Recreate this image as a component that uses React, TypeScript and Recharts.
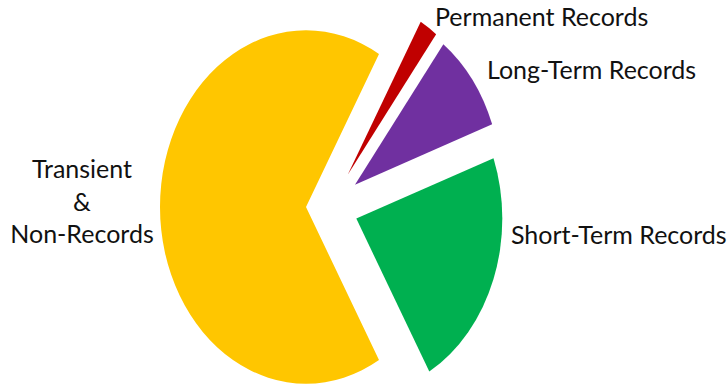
import React from 'react';
import { PieChart, Pie, Cell, Sector } from 'recharts';

const categories = ['Short-Term Records', 'Long-Term Records', 'Permanent Records', 'Transient & Non-Records'];
const shares = [22, 9, 2, 66];
const labelLines = [['Short-Term Records'], ['Long-Term Records'], ['Permanent Records'], ['Transient', '&', 'Non-Records']];

const colors = ['#00B050', '#7030A0', '#C00000', '#FFC600'];
const explode = [28, 31, 32, 24];
const labelLayout = [
  { dx: 181, dy: 37, anchor: 'start' },
  { dx: 157, dy: -128, anchor: 'start' },
  { dx: 105, dy: -181, anchor: 'start' },
  { dx: -248, dy: -29, anchor: 'middle' },
];

const data = categories.map((name, i) => ({ name, value: shares[i] }));

const CX = 330;
const CY = 207;
const R = 146;
const SCALE_Y = 1.21;
const RAD = Math.PI / 180;
const FONT = 'Lato, "Open Sans", sans-serif';

const idxOf = (props: any) => {
  const n = props.name ?? props.payload?.name;
  const i = categories.indexOf(n);
  return i >= 0 ? i : (props.index ?? 0);
};

const renderSlice = (props: any) => {
  const { cx, cy, innerRadius, outerRadius, startAngle, endAngle, fill } = props;
  const mid = props.midAngle ?? (startAngle + endAngle) / 2;
  const i = idxOf(props);
  const off = explode[i] ?? 0;
  const dx = off * Math.cos(-mid * RAD);
  const dy = off * Math.sin(-mid * RAD);
  return (
    <g transform={`translate(${cx} ${cy}) scale(1 ${SCALE_Y}) translate(${-cx + dx} ${-cy + dy})`}>
      <Sector
        cx={cx}
        cy={cy}
        innerRadius={innerRadius}
        outerRadius={outerRadius}
        startAngle={startAngle}
        endAngle={endAngle}
        fill={fill}
        stroke="none"
      />
    </g>
  );
};

const renderLabel = (props: any) => {
  const i = idxOf(props);
  const cx = props.cx ?? CX;
  const cy = props.cy ?? CY;
  const l = labelLayout[i];
  const lines = labelLines[i];
  return (
    <text
      x={cx + l.dx}
      y={cy + l.dy}
      textAnchor={l.anchor}
      fill="#111"
      fontFamily={FONT}
      fontSize={25}
    >
      {lines.map((t, k) => (
        <tspan key={k} x={cx + l.dx} dy={k === 0 ? 0 : 32.5}>
          {t}
        </tspan>
      ))}
    </text>
  );
};

export default function App() {
  return (
    <div style={{ position: 'absolute', left: 0, top: 0, background: '#fff' }}>
      <PieChart width={727} height={386} margin={{ top: 0, right: 0, bottom: 0, left: 0 }}>
        <Pie
          data={data}
          dataKey="value"
          nameKey="name"
          cx={CX}
          cy={CY}
          innerRadius={0}
          outerRadius={R}
          startAngle={-60}
          endAngle={300}
          stroke="none"
          isAnimationActive={false}
          shape={renderSlice}
          activeShape={renderSlice}
          inactiveShape={renderSlice}
          label={renderLabel}
          labelLine={false}
        >
          {data.map((d, i) => (
            <Cell key={d.name} fill={colors[i]} />
          ))}
        </Pie>
      </PieChart>
    </div>
  );
}
